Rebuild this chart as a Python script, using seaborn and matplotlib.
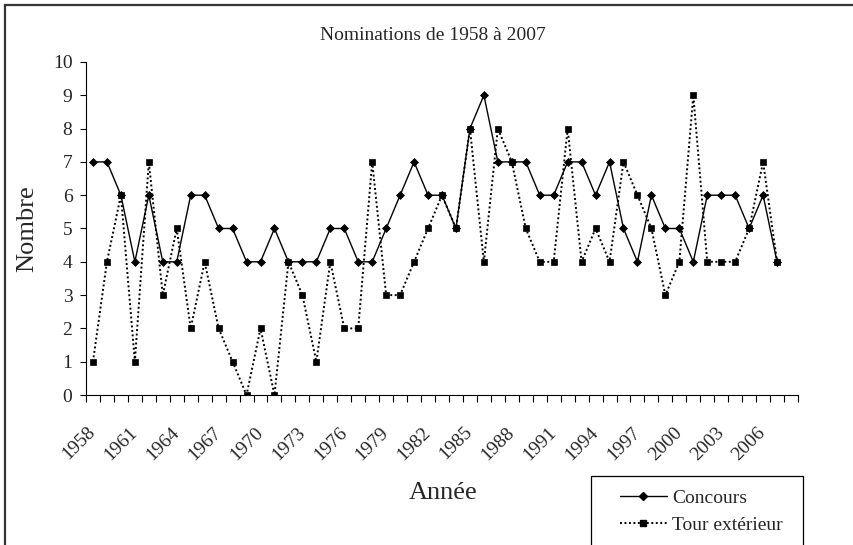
import matplotlib
matplotlib.use('Agg')
import matplotlib.pyplot as plt
from matplotlib.patches import Rectangle
from matplotlib.lines import Line2D
import seaborn as sns

# Data
years = list(range(1958, 2008))
concours = [7, 7, 6, 4, 6, 4, 4, 6, 6, 5, 5, 4,
            4, 5, 4, 4, 4, 5, 5, 4, 4, 5, 6, 7, 6,
            6, 5, 8, 9, 7, 7, 7, 6, 6, 7, 7, 6, 7,
            5, 4, 6, 5, 5, 4, 6, 6, 6, 5, 6, 4]
tour_ext = [1, 4, 6, 1, 7, 3, 5, 2, 4, 2, 1, 0,
            2, 0, 4, 3, 1, 4, 2, 2, 7, 3, 3, 4, 5,
            6, 5, 8, 4, 8, 7, 5, 4, 4, 8, 4, 5, 4,
            7, 6, 5, 3, 4, 9, 4, 4, 4, 5, 7, 4]
label_years = list(range(1958, 2007, 3))

sns.set_style('ticks')
plt.rcParams['font.family'] = ['Liberation Serif', 'DejaVu Serif']

W, H = 854, 545
fig = plt.figure(figsize=(W / 100, H / 100), dpi=100)
ax = fig.add_axes([86 / W, 1 - 395 / H, (798 - 86) / W, (395 - 62) / H])

# dotted series first so the solid one sits on top
sns.lineplot(x=years, y=tour_ext, ax=ax, color='black', linewidth=1.4,
             linestyle=(0, (1, 1.3)), marker='s', markersize=4.4,
             markeredgecolor='black', markerfacecolor='black', markeredgewidth=0.5)
sns.lineplot(x=years, y=concours, ax=ax, color='black', linewidth=1.0,
             marker='D', markersize=4.5,
             markeredgecolor='black', markerfacecolor='black', markeredgewidth=0.5)

ax.set_xlim(1957.5, 2008.5)
ax.set_ylim(0, 10)
ax.set_yticks(range(0, 11))
ax.set_xticks(label_years)
ax.set_xticklabels([str(y) for y in label_years], rotation=45, ha='right',
                   va='center', rotation_mode='anchor', fontsize=14)
ax.set_xticks([y - 0.5 for y in range(1958, 2010)], minor=True)
ax.tick_params(axis='x', which='major', length=0, pad=25)
ax.tick_params(axis='x', which='minor', length=5, width=0.8, direction='out', color='black')
ax.tick_params(axis='y', length=4.3, width=0.8, direction='out', color='black',
               labelsize=14, pad=5.5)

for side in ['top', 'right']:
    ax.spines[side].set_visible(False)
for side in ['left', 'bottom']:
    ax.spines[side].set_color('black')
    ax.spines[side].set_linewidth(0.8)

ax.set_xlabel('Année', fontsize=19)
ax.xaxis.label.set_verticalalignment('baseline')
ax.xaxis.set_label_coords((443 - 86) / 712, (395 - 499) / 333)
ax.set_ylabel('Nombre', fontsize=19)
ax.yaxis.label.set_verticalalignment('center')
ax.yaxis.set_label_coords((27 - 86) / 712, 0.5)

fig.text(433 / W, 1 - 35 / H, 'Nominations de 1958 à 2007', ha='center',
         va='center', fontsize=14)

# legend with its own box, cut by the bottom of the picture
handles = [
    Line2D([], [], color='black', linewidth=1.0, marker='D', markersize=4.5),
    Line2D([], [], color='black', linewidth=1.4, linestyle=(0, (1, 1.3)),
           marker='s', markersize=4.4),
]
fig.legend(handles, ['Concours', 'Tour extérieur'], loc='upper left',
           bbox_to_anchor=(620 / W, 1 - 489 / H), frameon=False, fontsize=14,
           handlelength=2.4, handletextpad=0.3, labelspacing=0.5,
           borderpad=0, borderaxespad=0)
fig.add_artist(Rectangle((591 / W, -0.1), (803 - 591) / W, 1 - 476 / H + 0.1,
                         transform=fig.transFigure, fill=False, lw=0.9, ec='black'))

# outer chart frame (runs off the right and bottom edges)
fig.add_artist(Rectangle((5 / W, -0.1), 1.2, 1 - 5 / H + 0.1,
                         transform=fig.transFigure, fill=False, lw=1.6, ec='#333333'))

fig.savefig('out.png', dpi=100)
